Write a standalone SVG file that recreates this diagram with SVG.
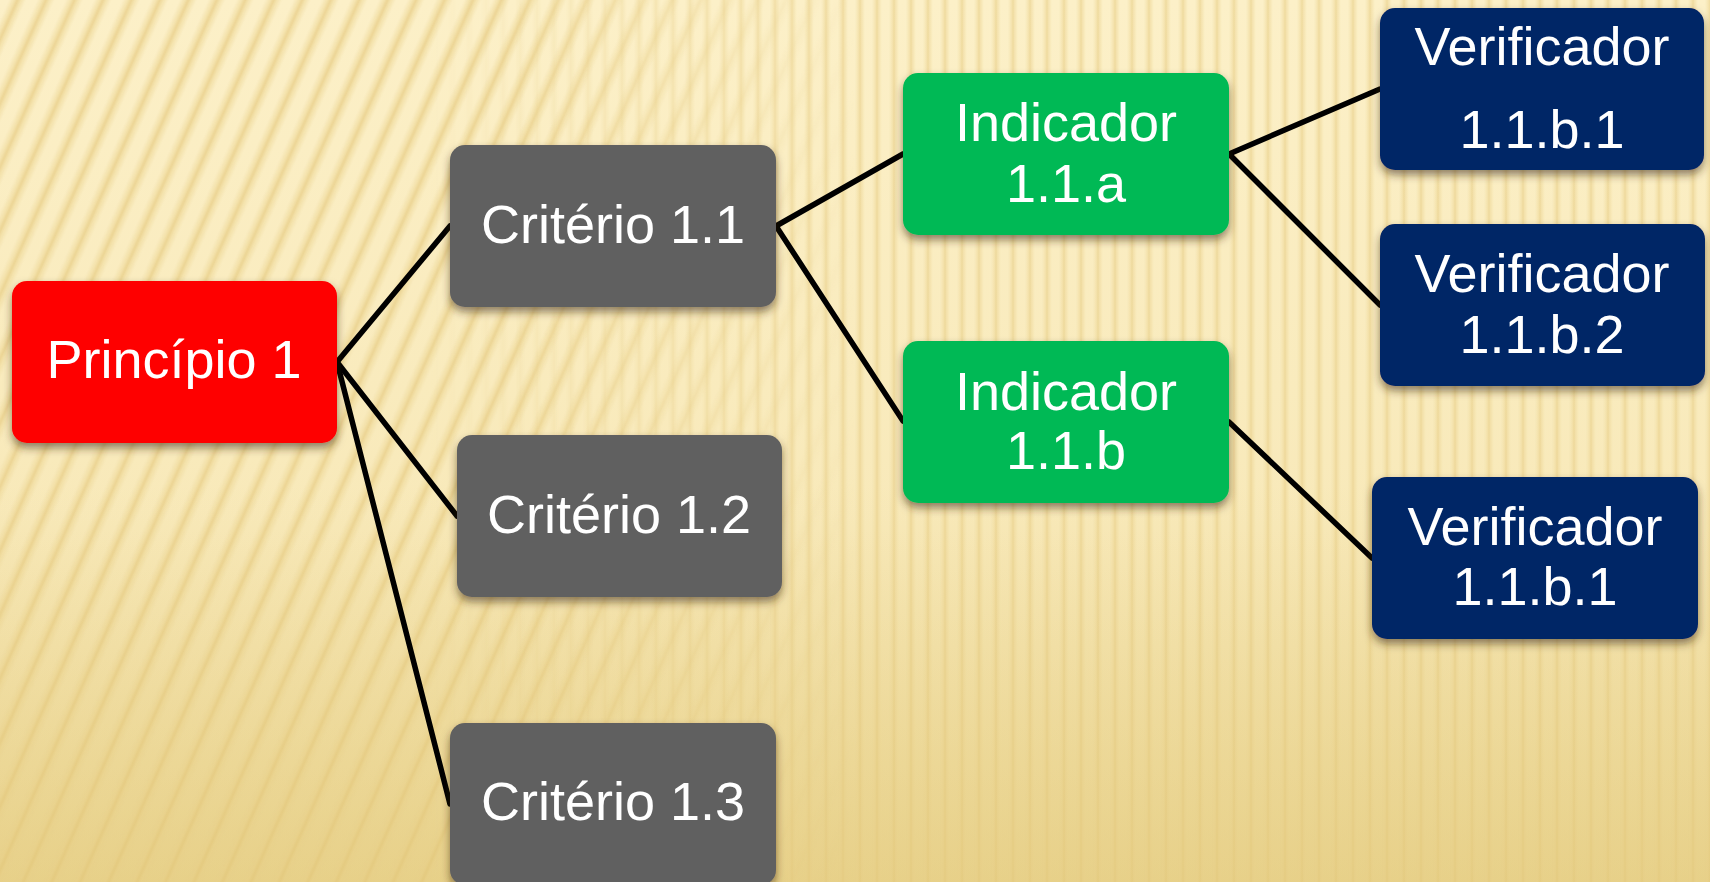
<svg xmlns="http://www.w3.org/2000/svg" width="1710" height="882" viewBox="0 0 1710 882">
  <defs>
    <linearGradient id="stripeGrad" x1="0" y1="0" x2="1" y2="0">
      <stop offset="0" stop-color="#f0dca0" stop-opacity="0"/>
      <stop offset="0.3" stop-color="#efda9c" stop-opacity="0.6"/>
      <stop offset="0.5" stop-color="#e9d08c" stop-opacity="0.85"/>
      <stop offset="0.7" stop-color="#efda9c" stop-opacity="0.6"/>
      <stop offset="1" stop-color="#f0dca0" stop-opacity="0"/>
    </linearGradient>
    <pattern id="diag" width="26" height="40" patternUnits="userSpaceOnUse" patternTransform="rotate(24)">
      <rect x="8" y="0" width="16" height="40" fill="url(#stripeGrad)"/>
    </pattern>
    <pattern id="vert" width="17" height="40" patternUnits="userSpaceOnUse">
      <rect x="5" y="0" width="10" height="40" fill="url(#stripeGrad)"/>
    </pattern>
    <linearGradient id="bgBase" x1="0" y1="0" x2="0" y2="1">
      <stop offset="0" stop-color="#fcf0c8"/>
      <stop offset="0.6" stop-color="#f8e9b9"/>
      <stop offset="1" stop-color="#efdc9e"/>
    </linearGradient>
    <linearGradient id="fadeH" x1="0" y1="0" x2="1" y2="0">
      <stop offset="0" stop-color="#fff"/>
      <stop offset="0.3" stop-color="#fff"/>
      <stop offset="0.5" stop-color="#000"/>
    </linearGradient>
    <linearGradient id="fadeHinv" x1="0" y1="0" x2="1" y2="0">
      <stop offset="0.25" stop-color="#000"/>
      <stop offset="0.5" stop-color="#ccc"/>
    </linearGradient>
    <mask id="mDiag"><rect width="1710" height="882" fill="url(#fadeH)"/></mask>
    <mask id="mVert"><rect width="1710" height="882" fill="url(#fadeHinv)"/></mask>
    <linearGradient id="bottomShade" x1="0" y1="0" x2="0" y2="1">
      <stop offset="0.55" stop-color="#d9bb62" stop-opacity="0"/>
      <stop offset="1" stop-color="#d9bb62" stop-opacity="0.35"/>
    </linearGradient>
    <filter id="shadow" x="-10%" y="-10%" width="120%" height="130%">
      <feDropShadow dx="0" dy="5" stdDeviation="4" flood-color="#3a2a10" flood-opacity="0.55"/>
    </filter>
  </defs>
  <style>
    .box { filter: url(#shadow); }
    .red { fill: #fe0000; }
    .gray { fill: #606060; }
    .green { fill: #05b955; }
    .navy { fill: #052566; }
    .lbl { font-family: "Liberation Sans", Arial, sans-serif; font-size: 54px; fill: #ffffff; text-anchor: middle; }
    .conn { stroke: #000; stroke-width: 5.5; fill: none; stroke-linecap: round; stroke-linejoin: round; }
  </style>

  <g id="background">
    <rect width="1710" height="882" fill="url(#bgBase)"/>
    <rect width="1710" height="882" fill="url(#diag)" mask="url(#mDiag)"/>
    <rect width="1710" height="882" fill="url(#vert)" mask="url(#mVert)"/>
    <rect width="1710" height="882" fill="url(#bottomShade)"/>
  </g>

  <g id="connectors">
    <line class="conn" x1="337" y1="362" x2="450" y2="226"/>
    <line class="conn" x1="337" y1="362" x2="457" y2="516"/>
    <line class="conn" x1="337" y1="362" x2="450" y2="804"/>
    <line class="conn" x1="776" y1="226" x2="903" y2="154"/>
    <line class="conn" x1="776" y1="226" x2="903" y2="421"/>
    <line class="conn" x1="1229" y1="154" x2="1380" y2="89"/>
    <line class="conn" x1="1229" y1="154" x2="1380" y2="305"/>
    <line class="conn" x1="1229" y1="422" x2="1372" y2="558"/>
  </g>

  <g id="principio1">
    <rect class="box red" x="12" y="281" width="325" height="162" rx="15"/>
    <text class="lbl" x="174" y="378">Princípio 1</text>
  </g>

  <g id="criterio11">
    <rect class="box gray" x="450" y="145" width="326" height="162" rx="15"/>
    <text class="lbl" x="613" y="243">Critério 1.1</text>
  </g>

  <g id="criterio12">
    <rect class="box gray" x="457" y="435" width="325" height="162" rx="15"/>
    <text class="lbl" x="619" y="533">Critério 1.2</text>
  </g>

  <g id="criterio13">
    <rect class="box gray" x="450" y="723" width="326" height="162" rx="15"/>
    <text class="lbl" x="613" y="820">Critério 1.3</text>
  </g>

  <g id="indicador11a">
    <rect class="box green" x="903" y="73" width="326" height="162" rx="15"/>
    <text class="lbl" x="1066" y="141">Indicador</text>
    <text class="lbl" x="1066" y="202">1.1.a</text>
  </g>

  <g id="indicador11b">
    <rect class="box green" x="903" y="341" width="326" height="162" rx="15"/>
    <text class="lbl" x="1066" y="410">Indicador</text>
    <text class="lbl" x="1066" y="469">1.1.b</text>
  </g>

  <g id="verificador11b1-top">
    <rect class="box navy" x="1380" y="8" width="324" height="162" rx="15"/>
    <text class="lbl" x="1542" y="65">Verificador</text>
    <text class="lbl" x="1542" y="148">1.1.b.1</text>
  </g>

  <g id="verificador11b2">
    <rect class="box navy" x="1380" y="224" width="325" height="162" rx="15"/>
    <text class="lbl" x="1542" y="292">Verificador</text>
    <text class="lbl" x="1542" y="353">1.1.b.2</text>
  </g>

  <g id="verificador11b1-bottom">
    <rect class="box navy" x="1372" y="477" width="326" height="162" rx="15"/>
    <text class="lbl" x="1535" y="545">Verificador</text>
    <text class="lbl" x="1535" y="605">1.1.b.1</text>
  </g>
</svg>
